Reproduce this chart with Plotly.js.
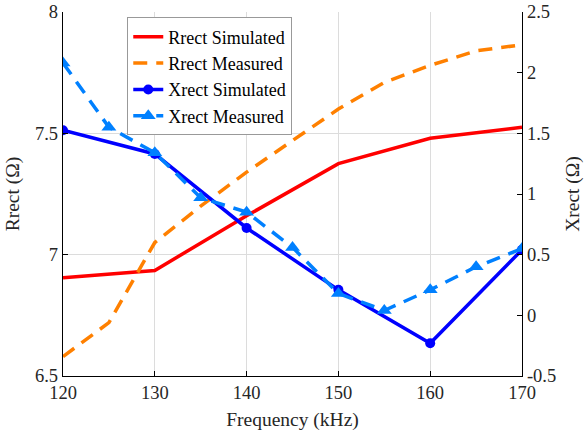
<!DOCTYPE html>
<html>
<head>
<meta charset="utf-8">
<script src="https://cdn.plot.ly/plotly-3.0.1.min.js"></script>
<style>
html,body{margin:0;padding:0;background:#fff;}
#chart{width:585px;height:434px;}
#chart svg text{font-family:"Liberation Serif","Times New Roman",Times,serif !important;}
</style>
</head>
<body>
<div id="chart"></div>
<script>
const freqSim = [120, 130, 140, 150, 160, 170];
const freqMeas = [120, 125, 130, 135, 140, 145, 150, 155, 160, 165, 170];
const rrectSim = [6.905, 6.935, 7.16, 7.375, 7.48, 7.525];
const rrectMeas = [6.58, 6.72, 7.05, 7.2, 7.34, 7.47, 7.6, 7.71, 7.78, 7.84, 7.865];
const xrectSim = [1.525, 1.33, 0.72, 0.21, -0.23, 0.54];
const xrectMeas = [2.08, 1.55, 1.34, 0.97, 0.85, 0.56, 0.18, 0.04, 0.21, 0.40, 0.55];
const xTicks = [120, 130, 140, 150, 160, 170];
const leftTicks = [6.5, 7, 7.5, 8];
const rightTicks = [-0.5, 0, 0.5, 1, 1.5, 2, 2.5];

const fam = 'Liberation Serif, Times New Roman, Times, serif';
function mkFont(size, color) { return {family: fam, size: size, color: color || '#262626'}; }

const traces = [
  {x: freqSim, y: rrectSim, name: 'Rrect Simulated', mode: 'lines', yaxis: 'y',
   line: {color: '#ff0000', width: 3.5}},
  {x: freqMeas, y: rrectMeas, name: 'Rrect Measured', mode: 'lines', yaxis: 'y',
   line: {color: '#ff8000', width: 3.5, dash: '14px,9px'}},
  {x: freqSim, y: xrectSim, name: 'Xrect Simulated', mode: 'lines+markers', yaxis: 'y2',
   line: {color: '#0000ff', width: 3.5}, marker: {symbol: 'circle', size: 10, color: '#0000ff'}},
  {x: freqMeas, y: xrectMeas, name: 'Xrect Measured', mode: 'lines+markers', yaxis: 'y2',
   line: {color: '#0080ff', width: 3.5, dash: '14px,9px'}, marker: {symbol: 'triangle-up', size: 13, color: '#0080ff'}}
];

const layout = {
  width: 585, height: 434,
  margin: {l: 63, r: 63, t: 12, b: 58},
  paper_bgcolor: '#fff', plot_bgcolor: '#fff',
  font: mkFont(18),
  showlegend: true,
  legend: {x: 0.14, y: 0.985, xanchor: 'left', yanchor: 'top',
    bgcolor: '#fff', bordercolor: '#999', borderwidth: 1,
    font: mkFont(18, '#000'), tracegroupgap: 0, itemwidth: 30},
  xaxis: {range: [120, 170], tickvals: xTicks, ticktext: xTicks.map(String),
    showgrid: true, gridcolor: '#dcdcdc', gridwidth: 1, automargin: false,
    showline: true, linecolor: '#000', linewidth: 1.2, mirror: false,
    ticks: 'inside', ticklen: 5, tickcolor: '#000', zeroline: false,
    tickfont: mkFont(18.5),
    title: {text: 'Frequency (kHz)', font: mkFont(19.5), standoff: 10}},
  yaxis: {range: [6.5, 8], tickvals: leftTicks, ticktext: ['6.5', '7', '7.5', '8'],
    showgrid: true, gridcolor: '#dcdcdc', gridwidth: 1, automargin: false,
    showline: true, linecolor: '#000', linewidth: 1.2,
    ticks: 'inside', ticklen: 5, tickcolor: '#000', zeroline: false,
    tickfont: mkFont(18.5),
    title: {text: 'Rrect (Ω)', font: mkFont(19.5), standoff: 10}},
  yaxis2: {range: [-0.5, 2.5], overlaying: 'y', side: 'right', automargin: false,
    tickvals: rightTicks, ticktext: ['-0.5', '0', '0.5', '1', '1.5', '2', '2.5'],
    showgrid: false, showline: true, linecolor: '#000', linewidth: 1.2,
    ticks: 'inside', ticklen: 5, tickcolor: '#000', zeroline: false,
    tickfont: mkFont(18.5),
    title: {text: 'Xrect (Ω)', font: mkFont(19.5), standoff: 10}}
};

Plotly.newPlot('chart', traces, layout, {displayModeBar: false, staticPlot: true});
</script>
</body>
</html>
